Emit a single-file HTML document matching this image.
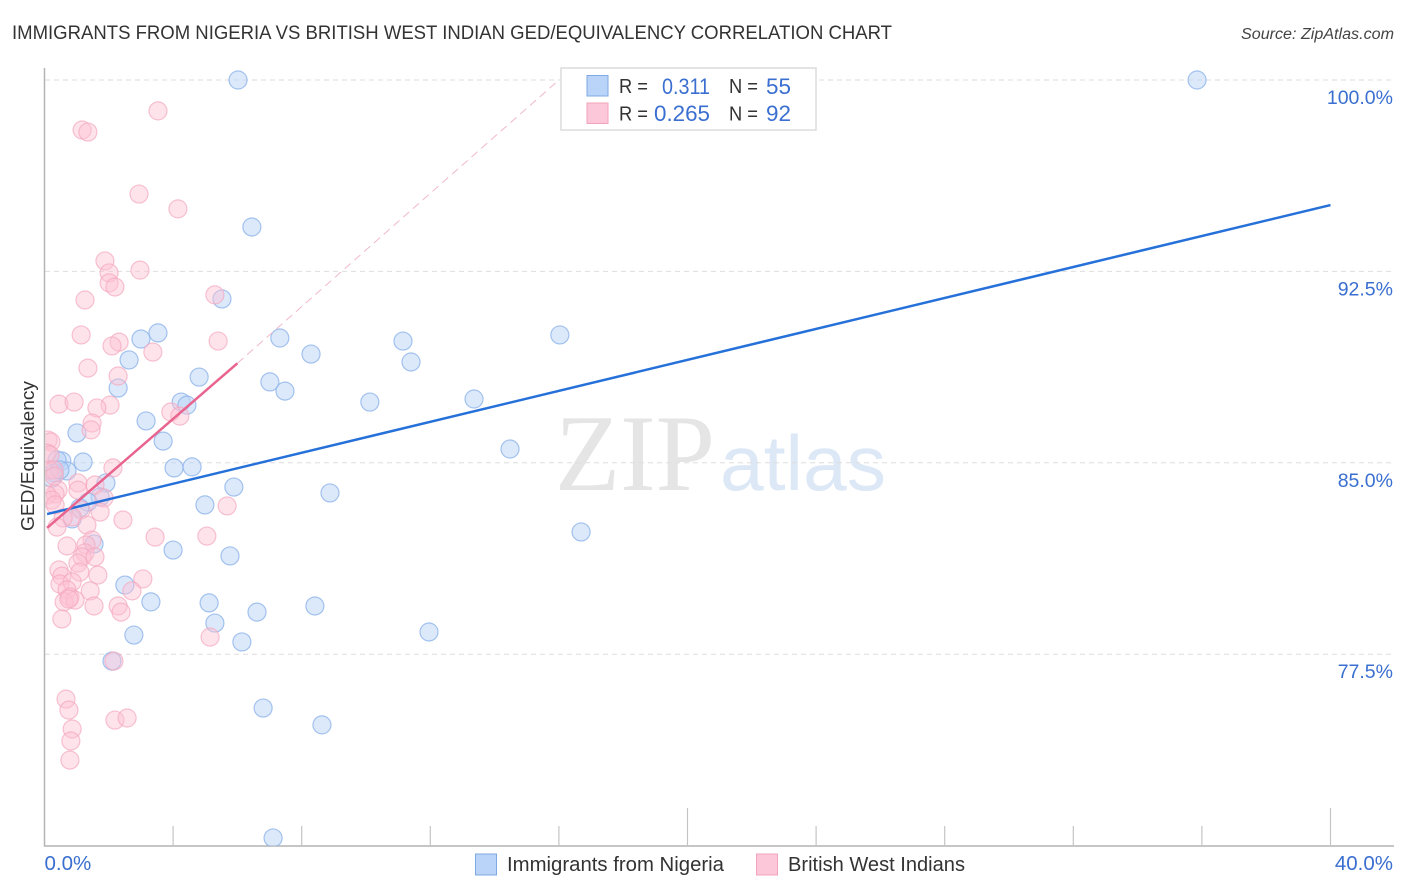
<!DOCTYPE html>
<html lang="en">
<head>
<meta charset="utf-8">
<title>Immigrants from Nigeria vs British West Indian GED/Equivalency Correlation Chart</title>
<style>
html,body{margin:0;padding:0;background:#fff;width:1406px;height:892px;overflow:hidden}
svg{display:block}
text{font-family:"Liberation Sans",sans-serif}
</style>
</head>
<body>
<svg id="chart" xmlns="http://www.w3.org/2000/svg" width="1406" height="892" viewBox="0 0 1406 892">
  <defs>
    <clipPath id="plot-clip"><rect x="45.5" y="60" width="1349" height="786"/></clipPath>
  </defs>
  <text x="12" y="39" font-size="19.5" fill="#333" textLength="880" lengthAdjust="spacingAndGlyphs">IMMIGRANTS FROM NIGERIA VS BRITISH WEST INDIAN GED/EQUIVALENCY CORRELATION CHART</text>
  <text x="1394" y="39" font-size="15.5" font-style="italic" fill="#444" text-anchor="end" textLength="153" lengthAdjust="spacingAndGlyphs">Source: ZipAtlas.com</text>

  <g>
    <text x="555" y="490" font-size="109" fill="#e5e5e5" textLength="160" lengthAdjust="spacingAndGlyphs" style="font-family:'Liberation Serif',serif">ZIP</text>
    <text x="720" y="490" font-size="78" fill="#dde8f7" textLength="166" lengthAdjust="spacingAndGlyphs">atlas</text>
  </g>

  <g id="grid"></g>
  <g id="axes"></g>
  <g id="points" clip-path="url(#plot-clip)"></g>
  <g id="trends"></g>
  <g id="labels"></g>

  <text transform="translate(34,456) rotate(-90)" font-size="18.5" fill="#333" text-anchor="middle" textLength="150" lengthAdjust="spacingAndGlyphs">GED/Equivalency</text>

  <g>
    <rect x="561" y="68" width="255" height="62" fill="#fff" stroke="#dcdcdc" stroke-width="1.5"/>
    <rect x="587" y="75.5" width="21" height="20.5" fill="#b9d4f8" stroke="#7fa9e0" stroke-width="1"/>
    <rect x="587" y="103" width="21" height="20.5" fill="#fcc7d8" stroke="#f2a3bb" stroke-width="1"/>
    <text x="619" y="93" font-size="20" fill="#333" textLength="29" lengthAdjust="spacingAndGlyphs">R =</text>
    <text x="662" y="94" font-size="22" fill="#3a6fd0" textLength="48" lengthAdjust="spacingAndGlyphs">0.311</text>
    <text x="729" y="93" font-size="20" fill="#333" textLength="29" lengthAdjust="spacingAndGlyphs">N =</text>
    <text x="766" y="94" font-size="22" fill="#3a6fd0" textLength="25" lengthAdjust="spacingAndGlyphs">55</text>
    <text x="619" y="120.5" font-size="20" fill="#333" textLength="29" lengthAdjust="spacingAndGlyphs">R =</text>
    <text x="654" y="121" font-size="22" fill="#3a6fd0" textLength="56" lengthAdjust="spacingAndGlyphs">0.265</text>
    <text x="729" y="120.5" font-size="20" fill="#333" textLength="29" lengthAdjust="spacingAndGlyphs">N =</text>
    <text x="766" y="121" font-size="22" fill="#3a6fd0" textLength="25" lengthAdjust="spacingAndGlyphs">92</text>
  </g>

  <g>
    <rect x="475.5" y="854" width="21" height="21" fill="#b9d4f8" stroke="#7fa9e0" stroke-width="1"/>
    <text x="507" y="871" font-size="20" fill="#333" textLength="217" lengthAdjust="spacingAndGlyphs">Immigrants from Nigeria</text>
    <rect x="756.5" y="854" width="21" height="21" fill="#fcc7d8" stroke="#f2a3bb" stroke-width="1"/>
    <text x="788" y="871" font-size="20" fill="#333" textLength="177" lengthAdjust="spacingAndGlyphs">British West Indians</text>
  </g>
</svg>

<script>
const yTickValues = [100, 92.5, 85, 77.5];
const yTickLabels = ["100.0%", "92.5%", "85.0%", "77.5%"];
const xTickValues = [4, 8, 12, 16, 20, 24, 28, 32, 36, 40];
const xMajorTicks = [20, 40];
const xEndValues = [0, 40];
const xEndLabels = ["0.0%", "40.0%"];

const nigeriaShare = [6.02,35.85,6.45,5.52,3.53,3.00,2.63,7.32,8.29,11.15,11.40,16.03,4.81,7.01,7.48,2.29,10.12,13.36,4.25,4.43,3.16,1.01,3.69,14.48,1.20,4.03,4.59,0.54,0.39,0.70,0.30,0.23,0.48,1.91,5.89,8.88,1.73,1.35,4.99,1.10,0.86,16.69,1.54,4.00,5.77,2.50,3.31,5.12,6.61,8.41,5.30,2.78,6.14,11.96,2.10,6.80,8.63,7.11];
const nigeriaGed = [100,100,94.24,91.42,90.09,89.85,89.03,89.89,89.26,89.77,88.95,90.01,88.36,88.17,87.81,87.93,87.38,87.50,87.38,87.26,86.64,86.17,85.85,85.54,85.03,84.80,84.84,85.07,85.11,84.68,84.60,84.40,84.72,84.21,84.05,83.82,83.66,83.46,83.35,83.23,82.80,82.29,81.82,81.58,81.35,80.21,79.55,79.51,79.15,79.39,78.72,78.25,77.98,78.37,77.23,75.39,74.73,70.30];

const bwiShare = [3.53,1.17,1.35,2.94,4.15,1.88,2.01,2.97,2.01,2.19,5.30,1.26,1.14,2.32,2.10,5.40,3.37,1.35,2.29,2.04,1.63,0.45,0.92,3.93,4.21,1.48,1.45,0.11,0.20,0.08,0.17,2.13,0.14,0.30,0.30,1.04,1.57,1.04,0.42,0.33,0.08,0.23,1.85,0.33,1.14,1.73,5.68,0.86,0.58,2.44,1.32,0.39,3.44,5.05,1.48,0.70,1.29,1.26,1.17,1.57,1.04,1.10,1.66,0.45,0.54,3.06,0.48,0.86,0.70,1.42,2.72,0.79,0.61,0.95,0.76,1.54,2.29,2.38,0.54,5.15,2.16,0.67,0.76,0.86,0.82,0.79,2.19,2.57];
const bwiGed = [98.79,98.04,97.96,95.53,94.95,92.91,92.44,92.55,92.05,91.89,91.58,91.38,90.01,89.73,89.58,89.77,89.34,88.71,88.40,87.26,87.15,87.30,87.38,86.99,86.83,86.56,86.29,85.89,85.82,85.38,85.31,84.80,84.72,84.72,84.48,84.21,84.13,83.93,83.93,83.78,83.74,83.54,83.62,83.35,83.15,83.07,83.31,82.88,82.84,82.76,82.56,82.48,82.09,82.13,81.97,81.74,81.78,81.47,81.31,81.31,81.07,80.72,80.60,80.80,80.56,80.45,80.25,80.33,80.02,79.98,79.98,79.74,79.55,79.62,79.66,79.39,79.39,79.15,78.88,78.17,77.23,75.74,75.31,74.57,74.10,73.35,74.92,75.00];

const nigeriaTrendShare = [0.08, 40];
const nigeriaTrendGed = [82.99, 95.1];
const bwiTrendShare = [0.08, 6];
const bwiTrendGed = [82.45, 88.9];
const bwiDashShare = [6, 16];
const bwiDashGed = [88.9, 100];

const SVG_NS = "http://www.w3.org/2000/svg";
function xScale(v) { return 44.5 + v * 32.15; }
function yScale(v) { return 80 + (100 - v) * 25.52; }
function make(tag, attrs, parent) {
  const el = document.createElementNS(SVG_NS, tag);
  for (const k in attrs) el.setAttribute(k, attrs[k]);
  parent.appendChild(el);
  return el;
}

const gridG = document.getElementById("grid");
const axesG = document.getElementById("axes");
const pointsG = document.getElementById("points");
const trendsG = document.getElementById("trends");
const labelsG = document.getElementById("labels");
const axisColor = "#b4b4b4";
const blueText = "#3a6fd0";

yTickValues.forEach(function (v, i) {
  const line = make("line", {x1: 45, x2: 1393, y1: yScale(v), y2: yScale(v), stroke: "#dedede", "stroke-width": 1, "stroke-dasharray": "5 4"}, gridG);
  
  
  const t = make("text", {x: 1393, y: yScale(v) + 24, "font-size": 19.5, fill: blueText, "text-anchor": "end"}, labelsG);
  
  
  t.textContent = yTickLabels[i];
});

const yAxis = make("line", {x1: 44.5, x2: 44.5, y1: 68, y2: 846.5, stroke: axisColor, "stroke-width": 1.5}, axesG);


const xAxis = make("line", {x1: 44, x2: 1394, y1: 846, y2: 846, stroke: axisColor, "stroke-width": 1.5}, axesG);



xTickValues.forEach(function (v) {
  const top = xMajorTicks.indexOf(v) >= 0 ? 808 : 826;
  const tick = make("line", {x1: xScale(v), x2: xScale(v), y1: top, y2: 846, stroke: "#c4c4c4", "stroke-width": 1.2}, axesG);
  
  
});

xEndValues.forEach(function (v, i) {
  const t = make("text", {x: i === 0 ? xScale(v) : 1393, y: 870, "font-size": 20.5, fill: blueText, "text-anchor": i === 0 ? "start" : "end"}, labelsG);
  
  
  t.textContent = xEndLabels[i];
});

nigeriaShare.forEach(function (v, i) {
  const c = make("circle", {cx: xScale(v), cy: yScale(nigeriaGed[i]), r: 9, fill: "#b9d4f8", "fill-opacity": 0.5, stroke: "#8fb4ea", "stroke-opacity": 0.8, "stroke-width": 1.2}, pointsG);
  
  
});
bwiShare.forEach(function (v, i) {
  const c = make("circle", {cx: xScale(v), cy: yScale(bwiGed[i]), r: 9, fill: "#fcc0d3", "fill-opacity": 0.45, stroke: "#f3a8bf", "stroke-opacity": 0.7, "stroke-width": 1.2}, pointsG);
  
  
});

const dash = make("line", {x1: xScale(bwiDashShare[0]), y1: yScale(bwiDashGed[0]), x2: xScale(bwiDashShare[1]), y2: yScale(bwiDashGed[1]), stroke: "#f0b9c9", "stroke-width": 1, "stroke-dasharray": "8 5"}, trendsG);


const blueTrend = make("line", {x1: xScale(nigeriaTrendShare[0]), y1: yScale(nigeriaTrendGed[0]), x2: xScale(nigeriaTrendShare[1]), y2: yScale(nigeriaTrendGed[1]), stroke: "#2671d9", "stroke-width": 2.5}, trendsG);


const pinkTrend = make("line", {x1: xScale(bwiTrendShare[0]), y1: yScale(bwiTrendGed[0]), x2: xScale(bwiTrendShare[1]), y2: yScale(bwiTrendGed[1]), stroke: "#e8648f", "stroke-width": 2.5}, trendsG);


</script>
</body>
</html>
